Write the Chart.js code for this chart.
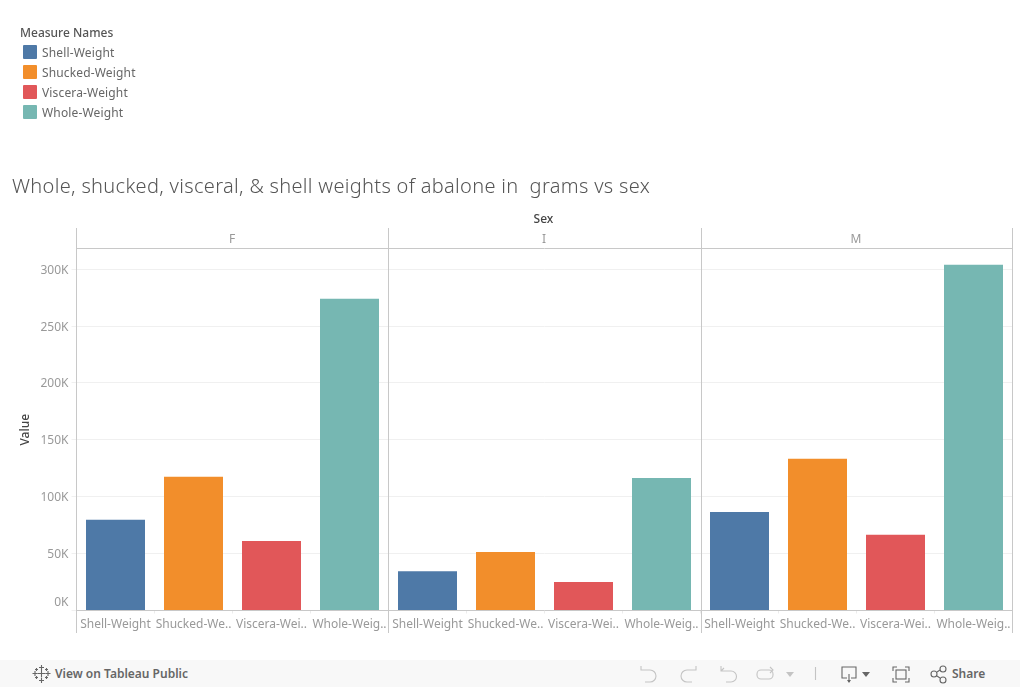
<!DOCTYPE html>
<html>
<head>
<meta charset="utf-8">
<title>Abalone weights vs sex</title>
<script src="https://cdn.jsdelivr.net/npm/chart.js@4"></script>
<style>
  html, body { margin: 0; padding: 0; background: #fff; overflow: hidden; }
  body { width: 1020px; height: 687px; position: relative; font-family: "Noto Sans", sans-serif; }
  #wrap { position: absolute; left: 0; top: 0; width: 1020px; height: 687px; }
  #legendTitle { position: absolute; left: 20px; top: 25px; font-size: 12px; line-height: 15px; font-weight: 500; color: #555; }
  .item { position: absolute; left: 23px; height: 14px; }
  .swatch { position: absolute; left: 0; top: 0; width: 14px; height: 14px; border-radius: 1px; }
  .item span { position: absolute; left: 19px; top: 0; line-height: 16px; font-size: 12px; color: #666; white-space: nowrap; letter-spacing: .15px; }
  #title { position: absolute; left: 12px; top: 173px; font-size: 20px; line-height: 26px; font-weight: 300; color: #555; white-space: nowrap; letter-spacing: .32px; }
  #bar { position: absolute; left: 0; top: 660px; width: 1020px; height: 27px; background: #f8f8f8; }
  #bar svg { position: absolute; left: 0; top: 0; }
  #bar .txt { position: absolute; top: 6px; line-height: 16px; font-size: 12px; font-weight: 600; color: #666; white-space: nowrap; }
</style>
</head>
<body>
<div id="wrap"><canvas id="abaloneChart" width="1020" height="687"></canvas></div>
<div id="legendTitle">Measure Names</div>
<div id="legend"></div>
<div id="title">Whole, shucked, visceral, &amp; shell weights of abalone in&nbsp; grams vs sex</div>
<div id="bar">
  <svg width="1020" height="27" fill="none" stroke-width="1.1">
    <g stroke="#666">
      <path d="M41.500 9.500v8M37.500 13.500h8"/>
      <path d="M41.500 5v5M39 7.500h5M41.500 18v5M39 20.500h5M35 11v5M32.500 13.500h5M48 11v5M45.500 13.500h5"/>
      <path d="M36.500 8v3M35 9.500h3M46.500 8v3M45 9.500h3M36.500 16v3M35 17.500h3M46.500 16v3M45 17.500h3"/>
    </g>
    <g stroke="#c4c4c4">
      <path d="M641 6v4h5M641 10h9a6 6 0 0 1 0 12h-5"/>
      <path d="M696 6v4h-5M696 10h-9a6 6 0 0 0 0 12h5"/>
      <path d="M721 6v5h10a5.500 5.500 0 0 1 0 11h-5M724 8l-3 3"/>
      <rect x="757" y="10" width="16" height="9" rx="4"/>
      <path d="M770 7l3 3-3 3"/>
      <path d="M815.500 7v13"/>
    </g>
    <path d="M786 12h8l-4 5z" fill="#c4c4c4"/>
    <g stroke="#666">
      <path d="M847 18h-5v-11h14v11h-5M849 14v8"/>
      <path d="M893 11v-4h4M905 7h4v4M909 18v4h-4M897 22h-4v-4"/>
      <rect x="896" y="10" width="10" height="9"/>
      <circle cx="934" cy="14" r="3"/><circle cx="943" cy="9" r="3"/><circle cx="943" cy="20" r="3"/>
      <path d="M937 12l3-2M937 16l3 2"/>
    </g>
    <path d="M847 20h4l-2 3zM862 12h8l-4 5z" fill="#666"/>
  </svg>
  <div class="txt" style="left:55px">View on Tableau Public</div>
  <div class="txt" style="left:952px">Share</div>
</div>

<script>
const sexes = ["F", "I", "M"];
const measures = ["Shell-Weight", "Shucked-Weight", "Viscera-Weight", "Whole-Weight"];
const tickLabels = ["Shell-Weight", "Shucked-We..", "Viscera-Wei..", "Whole-Weig.."];
const shellWeight = [79700, 34500, 86500];
const shuckedWeight = [117500, 51500, 133500];
const visceraWeight = [61200, 25100, 66500];
const wholeWeight = [274000, 116500, 304000];
const yTicks = [0, 50000, 100000, 150000, 200000, 250000, 300000];
const colors = ["#4e79a7", "#f28e2b", "#e15759", "#76b7b2"];

const series = [shellWeight, shuckedWeight, visceraWeight, wholeWeight];
const labels = sexes.flatMap((s) => measures.map((m) => s + " " + m));

// each measure only fills its own slot inside a sex panel
const datasets = measures.map((m, i) => ({
  label: m,
  backgroundColor: colors[i],
  barPercentage: 59 / 78,
  categoryPercentage: 1,
  data: labels.map((l, n) => (n % 4 === i ? series[i][Math.floor(n / 4)] : null)),
}));

// panel frame and the Sex header
const panels = {
  id: "panels",
  beforeDatasetsDraw(chart) {
    const { ctx, scales: { x }, chartArea: area } = chart;
    const band = x.width / labels.length;
    ctx.save();
    ctx.strokeStyle = "#c8c8c8";
    ctx.lineWidth = 1;
    ctx.beginPath();
    ctx.moveTo(area.left, 248.5);
    ctx.lineTo(area.right, 248.5);
    sexes.forEach((s, i) => {
      // last divider lands a pixel to the right in the original
      const left = x.getPixelForValue(i * 4) - band / 2 + (i === 2 ? 1 : 0);
      ctx.moveTo(left, 228);
      ctx.lineTo(left, 633);
    });
    ctx.moveTo(area.right, 228);
    ctx.lineTo(area.right, 633);
    ctx.stroke();

    ctx.textAlign = "center";
    ctx.textBaseline = "middle";
    ctx.fillStyle = "#999";
    ctx.font = '12px "Noto Sans"';
    sexes.forEach((s, i) => {
      const left = x.getPixelForValue(i * 4) - band / 2;
      ctx.fillText(s, left + band * 2 - 0.5, 239.5);
    });
    ctx.fillStyle = "#444";
    ctx.font = '500 12px "Noto Sans"';
    ctx.fillText("Sex", (area.left + area.right) / 2 - 1, 219.5);
    ctx.restore();
  },
};

new Chart(document.getElementById("abaloneChart"), {
  type: "bar",
  data: { labels, datasets },
  plugins: [panels],
  options: {
    responsive: false,
    animation: false,
    layout: { padding: { left: 10.5, right: 7.5, top: 249, bottom: 0 } },
    plugins: { legend: { display: false }, tooltip: { enabled: false } },
    scales: {
      x: {
        stacked: true,
        afterFit(scale) { scale.height = 76.5; },
        border: { color: "#c8c8c8" },
        grid: { drawOnChartArea: false, color: "#ececec", tickLength: 3 },
        ticks: {
          autoSkip: false,
          maxRotation: 0,
          padding: 4,
          color: "#999",
          font: { family: "Noto Sans", size: 12 },
          callback: (v, i) => tickLabels[i % 4],
        },
      },
      y: {
        stacked: true,
        min: 0,
        max: 317800,
        afterFit(scale) { scale.width = 66; },
        afterBuildTicks(scale) { scale.ticks = yTicks.map((value) => ({ value })); },
        border: { color: "#c8c8c8" },
        grid: { color: "#f0f0f0", tickLength: 5 },
        title: { display: true, text: "Value", color: "#444", font: { family: "Noto Sans", size: 12, weight: "500" }, padding: { top: 8, bottom: 0 } },
        ticks: {
          padding: 3,
          labelOffset: 1,
          color: "#999",
          font: { family: "Noto Sans", size: 12, lineHeight: 1.5 },
          // the 0K label sits above its gridline
          callback: (v) => (v === 0 ? ["0K", ""] : v / 1000 + "K"),
        },
      },
    },
  },
});

// legend rows come from the same names and colours
document.getElementById("legend").innerHTML = measures
  .map((m, i) => `<div class="item" style="top:${45 + i * 20}px"><div class="swatch" style="background:${colors[i]}"></div><span>${m}</span></div>`)
  .join("");
</script>
</body>
</html>
